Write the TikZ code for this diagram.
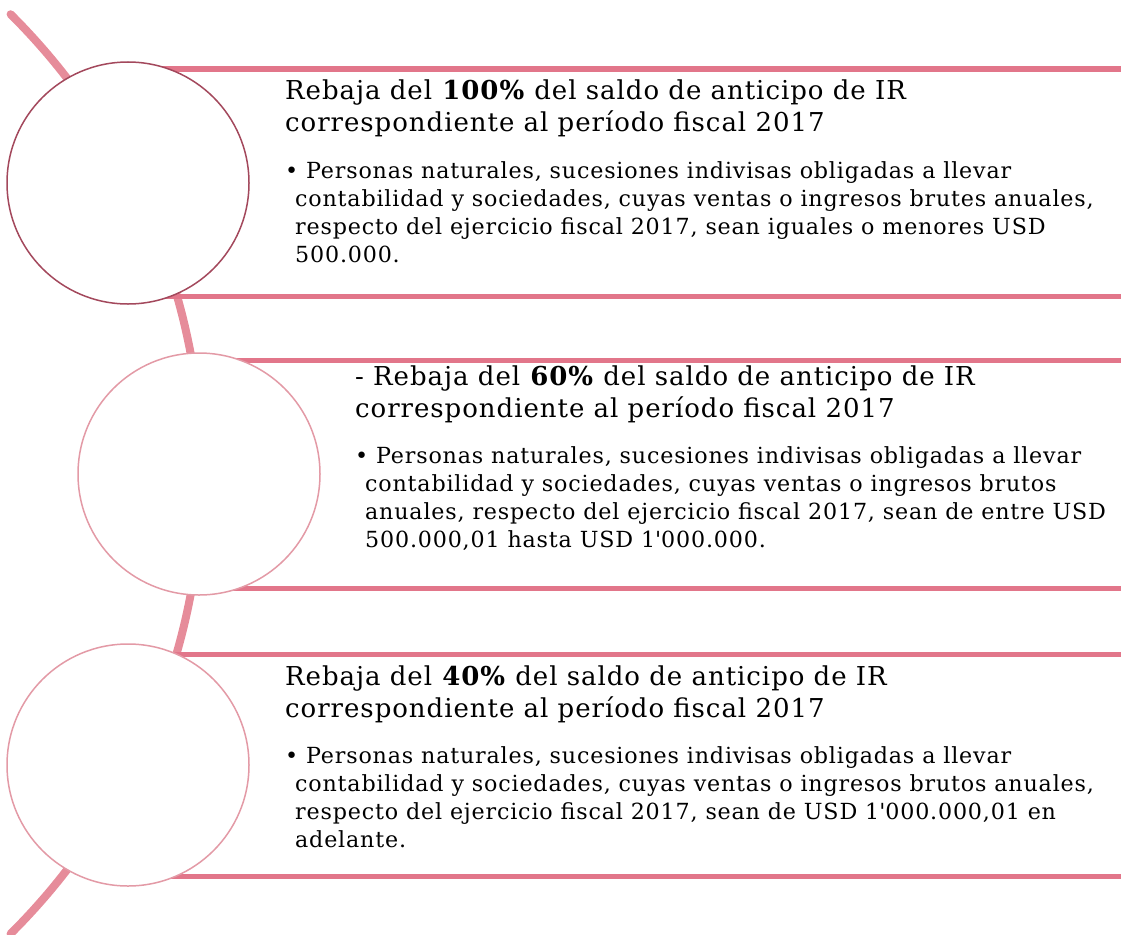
\documentclass[tikz,border=0pt]{standalone}
\usepackage{fontspec}
\setmainfont{DejaVu Serif}[LetterSpace=3.7]
\usetikzlibrary{positioning, backgrounds}
\definecolor{barpink}{RGB}{226,118,138}
\definecolor{spinepink}{RGB}{230,140,154}
\definecolor{ringdark}{RGB}{163,72,92}
\definecolor{ringlight}{RGB}{227,154,166}
\tikzstyle{ring} = [draw=ringlight, line width=1.5pt, circle, fill=white, minimum size=242pt, inner sep=0pt]
\tikzstyle{bar} = [draw=barpink, line width=5pt]
\tikzstyle{spine} = [draw=spinepink, line width=8pt, line cap=round]
\tikzstyle{head} = [anchor=north west, inner sep=0pt, align=left, font=\fontsize{26pt}{32.5pt}\selectfont]
\tikzstyle{body} = [anchor=north west, inner sep=0pt, align=left, font=\fontsize{22.2pt}{28.3pt}\selectfont]

\begin{document}
\begin{tikzpicture}[x=1pt, y=1pt]
	\useasboundingbox (0,0) rectangle (1121,-934);
	\node [ring, draw=ringdark] (ring1) at (128,-183) {};
	\node [ring] (ring2) at (199,-474) {};
	\node [ring] (ring3) at (128,-765) {};

	\node [head] (head1) at (285,-79.5) {Rebaja del \textbf{100\%} del saldo de anticipo de IR\\correspondiente al período fiscal 2017};
	\node [body] (body1) at (285,-161) {\textbullet\ Personas naturales, sucesiones indivisas obligadas a llevar\\
		\hspace*{10pt}contabilidad y sociedades, cuyas ventas o ingresos brutes anuales,\\
		\hspace*{10pt}respecto del ejercicio fiscal 2017, sean iguales o menores USD\\
		\hspace*{10pt}500.000.};

	\node [head] (head2) at (355,-365.5) {- Rebaja del \textbf{60\%} del saldo de anticipo de IR\\correspondiente al período fiscal 2017};
	\node [body] (body2) at (355,-446) {\textbullet\ Personas naturales, sucesiones indivisas obligadas a llevar\\
		\hspace*{10pt}contabilidad y sociedades, cuyas ventas o ingresos brutos\\
		\hspace*{10pt}anuales, respecto del ejercicio fiscal 2017, sean de entre USD\\
		\hspace*{10pt}500.000,01 hasta USD 1\textquotesingle 000.000.};

	\node [head] (head3) at (285,-665.5) {Rebaja del \textbf{40\%} del saldo de anticipo de IR\\correspondiente al período fiscal 2017};
	\node [body] (body3) at (285,-746) {\textbullet\ Personas naturales, sucesiones indivisas obligadas a llevar\\
		\hspace*{10pt}contabilidad y sociedades, cuyas ventas o ingresos brutos anuales,\\
		\hspace*{10pt}respecto del ejercicio fiscal 2017, sean de USD 1\textquotesingle 000.000,01 en\\
		\hspace*{10pt}adelante.};

	\begin{pgfonlayer}{background}
		\path [spine] (-446,-474) ++(45.2:648) arc [start angle=45.2, end angle=-45.2, radius=648];
		\path [bar] (ring1.center |- 0,-69) -- (1121,-69);
		\path [bar] (ring1.center |- 0,-296) -- (1121,-296);
		\path [bar] (ring2.center |- 0,-360) -- (1121,-360);
		\path [bar] (ring2.center |- 0,-588) -- (1121,-588);
		\path [bar] (ring3.center |- 0,-654) -- (1121,-654);
		\path [bar] (ring3.center |- 0,-876) -- (1121,-876);
	\end{pgfonlayer}
\end{tikzpicture}
\end{document}
